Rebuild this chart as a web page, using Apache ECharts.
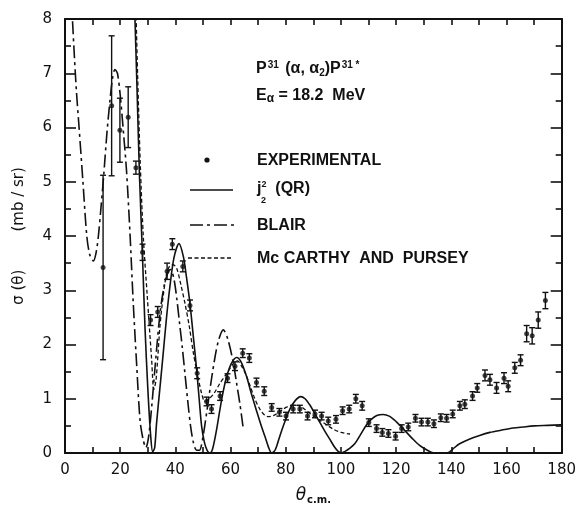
<!DOCTYPE html>
<html>
<head>
<meta charset="utf-8">
<script src="https://cdn.jsdelivr.net/npm/echarts@6/dist/echarts.min.js"></script>
<style>
html,body{margin:0;padding:0;background:#fff;}
#chart{width:579px;height:510px;}
</style>
</head>
<body>
<div id="chart"></div>
<script>
// ---------- DATA ----------
// Experimental points: angle (deg c.m.), cross section (mb/sr), error (mb/sr)
var expTheta = [13.8,16.9,19.9,22.9,25.7,28.1,31.0,33.6,37.0,38.9,42.7,45.3,47.9,51.3,53.1,56.2,58.9,61.6,64.4,66.8,69.4,72.2,74.9,77.7,80.1,82.7,85.1,87.9,90.6,93.0,95.4,98.2,100.6,103.0,105.4,107.7,110.1,112.9,115.0,117.2,119.8,122.0,124.4,127.0,129.2,131.5,133.7,136.2,138.3,140.5,143.1,144.9,147.7,149.4,152.2,154.0,156.4,159.1,160.6,163.0,165.1,167.3,169.3,171.5,174.1];
var expSigma = [3.42,6.40,5.95,6.19,5.26,3.70,2.45,2.60,3.35,3.85,3.44,2.72,1.47,0.95,0.81,1.05,1.38,1.60,1.84,1.75,1.30,1.14,0.84,0.75,0.68,0.81,0.81,0.68,0.72,0.68,0.59,0.62,0.78,0.81,1.00,0.87,0.56,0.45,0.38,0.36,0.31,0.45,0.48,0.64,0.57,0.57,0.54,0.65,0.64,0.72,0.87,0.90,1.05,1.20,1.43,1.35,1.20,1.38,1.23,1.57,1.71,2.20,2.16,2.45,2.81];
var expErr   = [1.70,1.29,0.59,0.56,0.12,0.15,0.10,0.10,0.15,0.10,0.10,0.10,0.10,0.08,0.08,0.08,0.08,0.08,0.08,0.08,0.08,0.08,0.07,0.07,0.07,0.07,0.07,0.07,0.07,0.07,0.07,0.07,0.07,0.07,0.08,0.08,0.07,0.07,0.07,0.07,0.07,0.07,0.07,0.07,0.07,0.07,0.07,0.07,0.07,0.07,0.08,0.08,0.08,0.08,0.10,0.10,0.10,0.10,0.10,0.10,0.10,0.15,0.15,0.15,0.15];

// j2^2 (QR) curve
var qrTheta = [25.0,26.0,27.0,28.0,29.0,30.0,31.0,31.8,32.5,33.2,34.5,35.6,36.8,38.0,39.5,41.3,42.9,44.0,45.3,46.5,47.7,48.7,49.5,50.5,51.5,52.5,53.5,55.0,56.2,57.4,58.6,60.3,62.2,63.8,65.8,67.5,69.4,71.0,72.5,73.8,74.9,76.2,77.9,79.7,81.5,83.5,85.4,87.0,88.8,90.6,92.4,94.2,96.0,97.8,99.0,100.2,101.5,103.0,105.0,107.0,109.3,111.0,113.0,115.3,117.5,120.0,122.5,126.0,128.5,131.0,133.0,136.0,139.0,140.7,143.0,146.7,150.0,154.0,158.0,162.4,166.0,170.0,175.0,180.0];
var qrSigma = [8.60,6.90,5.10,3.75,2.30,1.20,0.35,0.02,0.10,0.56,1.25,1.84,2.50,3.06,3.60,3.86,3.62,3.25,2.75,2.15,1.54,0.95,0.50,0.20,0.05,0.00,0.08,0.45,0.82,1.15,1.41,1.65,1.76,1.68,1.41,1.10,0.78,0.52,0.30,0.10,0.00,0.06,0.32,0.58,0.81,0.97,1.04,1.00,0.88,0.72,0.56,0.40,0.25,0.10,0.03,0.00,0.03,0.08,0.17,0.33,0.52,0.62,0.69,0.71,0.68,0.58,0.45,0.26,0.14,0.06,0.01,0.00,0.01,0.08,0.17,0.26,0.32,0.38,0.42,0.46,0.48,0.50,0.51,0.52];

// Blair curve
var blairTheta = [2.3,3.2,4.1,5.1,6.5,7.9,9.0,10.3,11.3,12.1,13.0,14.0,15.2,16.3,17.2,18.1,19.0,20.0,21.2,22.3,23.6,24.7,26.0,27.2,28.3,29.3,30.3,31.5,33.0,34.5,36.0,37.5,38.3,39.5,40.5,41.5,42.5,43.5,44.5,45.5,46.5,47.7,48.7,50.0,51.5,53.5,55.5,57.4,59.0,61.0,62.3,63.4,64.6];
var blairSigma = [8.40,7.50,6.70,6.00,5.00,4.00,3.65,3.54,3.70,4.00,4.50,5.10,5.90,6.50,6.90,7.07,7.00,6.60,5.90,5.20,4.00,2.80,1.60,0.60,0.25,0.10,0.30,0.90,1.80,2.60,3.10,3.35,3.38,3.20,2.85,2.40,1.95,1.45,0.95,0.50,0.20,0.05,0.05,0.30,0.80,1.50,2.05,2.27,2.10,1.66,1.25,0.90,0.45];

// McCarthy and Pursey curve
var mpTheta = [25.6,26.3,27.3,28.4,29.8,31.4,32.2,33.0,34.4,35.6,36.8,38.0,39.2,40.5,42.0,43.5,45.0,46.5,48.0,49.5,50.7,52.0,54.0,56.2,58.0,59.8,61.5,62.5,64.0,65.5,67.0,68.8,70.7,72.3,73.7,75.5,77.5,79.1,81.0,83.0,85.0,87.0,89.0,90.5,92.4,94.8,97.2,100.0,103.3];
var mpSigma = [8.40,7.00,5.30,3.97,2.90,1.72,1.17,1.35,2.33,2.90,3.30,3.45,3.47,3.40,3.10,2.75,2.35,1.85,1.45,1.10,0.95,0.99,1.10,1.29,1.42,1.56,1.68,1.70,1.60,1.45,1.25,1.00,0.80,0.70,0.67,0.69,0.75,0.81,0.86,0.88,0.87,0.80,0.72,0.66,0.60,0.52,0.44,0.38,0.35];

// Axis ticks
var xTicks = {min: 0, max: 180, interval: 20};
var yTicks = {min: 0, max: 8, interval: 1};

// ---------- BUILD ----------
function pairs(a, b) { return a.map(function (v, i) { return [v, b[i]]; }); }
var expData = expTheta.map(function (v, i) { return [v, expSigma[i], expErr[i]]; });

var INK = '#111';
var FONT = 'DejaVu Sans';
var TFONT = 'Liberation Sans';
var chart = echarts.init(document.getElementById('chart'), null, {renderer: 'canvas'});

function axisCommon(showLabel, isY) {
  return {
    axisLine: {show: true, onZero: false, lineStyle: {color: INK, width: 2}},
    axisTick: {show: true, inside: true, length: isY ? 11 : 6, lineStyle: {color: INK, width: 1.6}},
    minorTick: {show: true, splitNumber: 2, length: 6, lineStyle: {color: INK, width: 1.6}},
    splitLine: {show: false},
    minorSplitLine: {show: false},
    axisLabel: {show: showLabel, color: INK, fontFamily: FONT, fontSize: 15, margin: isY ? 13 : 10}
  };
}

var option = {
  backgroundColor: '#fff',
  animation: false,
  grid: {left: 65, right: 17, top: 19, bottom: 52, containLabel: false},
  xAxis: [
    Object.assign({type: 'value', position: 'bottom', min: xTicks.min, max: xTicks.max, interval: xTicks.interval,
      name: '{t|θ}{s|c.m.}', nameLocation: 'middle', nameGap: 34,
      nameTextStyle: {rich: {
        t: {fontFamily: FONT, fontSize: 17, fontStyle: 'italic', color: INK},
        s: {fontFamily: FONT, fontSize: 10, fontWeight: 'bold', color: INK, padding: [8, 0, 0, 1]}
      }}}, axisCommon(true, false)),
    Object.assign({type: 'value', position: 'top', min: xTicks.min, max: xTicks.max, interval: xTicks.interval}, axisCommon(false, false))
  ],
  yAxis: [
    Object.assign({type: 'value', position: 'left', min: yTicks.min, max: yTicks.max, interval: yTicks.interval,
      name: 'σ (θ)        (mb / sr)', nameLocation: 'middle', nameGap: 38, nameRotate: 90,
      nameTextStyle: {fontFamily: FONT, fontSize: 15, color: INK}}, axisCommon(true, true)),
    Object.assign({type: 'value', position: 'right', min: yTicks.min, max: yTicks.max, interval: yTicks.interval}, axisCommon(false, true))
  ],
  series: [
    {
      name: 'j2² (QR)', type: 'line', data: pairs(qrTheta, qrSigma), smooth: 0.3,
      showSymbol: false, clip: true, lineStyle: {color: INK, width: 1.6, type: 'solid'}
    },
    {
      name: 'BLAIR', type: 'line', data: pairs(blairTheta, blairSigma), smooth: 0.3,
      showSymbol: false, clip: true, lineStyle: {color: INK, width: 1.6, type: [13, 4, 3, 4]}
    },
    {
      name: 'McCARTHY AND PURSEY', type: 'line', data: pairs(mpTheta, mpSigma), smooth: 0.3,
      showSymbol: false, clip: true, lineStyle: {color: INK, width: 1.3, type: [4, 2.5]}
    },
    {
      name: 'EXPERIMENTAL errors', type: 'custom', data: expData, clip: true,
      renderItem: function (params, api) {
        var x = api.value(0), y = api.value(1), e = api.value(2);
        var top = api.coord([x, y + e]);
        var bot = api.coord([x, Math.max(y - e, 0)]);
        var w = 3;
        var st = {stroke: INK, lineWidth: 1.4};
        return {type: 'group', children: [
          {type: 'line', shape: {x1: top[0], y1: top[1], x2: bot[0], y2: bot[1]}, style: st},
          {type: 'line', shape: {x1: top[0] - w, y1: top[1], x2: top[0] + w, y2: top[1]}, style: st},
          {type: 'line', shape: {x1: bot[0] - w, y1: bot[1], x2: bot[0] + w, y2: bot[1]}, style: st}
        ]};
      }
    },
    {
      name: 'EXPERIMENTAL', type: 'scatter', data: pairs(expTheta, expSigma),
      symbol: 'circle', symbolSize: 5, itemStyle: {color: INK}
    }
  ],
  graphic: [
    {type: 'text', left: 256, top: 60, style: {
      text: '{a|P}{u|31}{a| (α, α}{d|2}{a|)P}{u|31 *}',
      rich: {
        a: {fontFamily: TFONT, fontSize: 16, fill: INK, fontWeight: 'bold'},
        u: {fontFamily: TFONT, fontSize: 10, fill: INK, fontWeight: 'bold', padding: [0, 2, 8, 1]},
        d: {fontFamily: TFONT, fontSize: 10, fill: INK, fontWeight: 'bold', padding: [8, 0, 0, 0]}
      }}},
    {type: 'text', left: 256, top: 88, style: {
      text: '{a|E}{d|α}{a| = 18.2  MeV}',
      rich: {
        a: {fontFamily: TFONT, fontSize: 16, fill: INK, fontWeight: 'bold'},
        d: {fontFamily: TFONT, fontSize: 12, fill: INK, fontWeight: 'bold', padding: [6, 0, 0, 0]}
      }}},
    // legend samples
    {type: 'circle', shape: {cx: 207, cy: 160, r: 2.6}, style: {fill: INK}},
    {type: 'line', shape: {x1: 190, y1: 190, x2: 233, y2: 190}, style: {stroke: INK, lineWidth: 1.6}},
    {type: 'line', shape: {x1: 190, y1: 225, x2: 236, y2: 225}, style: {stroke: INK, lineWidth: 1.6, lineDash: [13, 4, 3, 4]}},
    {type: 'line', shape: {x1: 188, y1: 258, x2: 232, y2: 258}, style: {stroke: INK, lineWidth: 1.3, lineDash: [4, 2.5]}},
    {type: 'text', left: 257, top: 153, style: {text: 'EXPERIMENTAL', fontFamily: TFONT, fontSize: 16, fill: INK, fontWeight: 'bold'}},
    {type: 'text', left: 257, top: 180, style: {
      text: '{a|j}{s|2}{a|  (QR)}',
      rich: {
        a: {fontFamily: TFONT, fontSize: 16, fill: INK, fontWeight: 'bold'},
        s: {fontFamily: TFONT, fontSize: 9, fill: INK, fontWeight: 'bold', padding: [0, 0, 8, 0]}
      }}},
    {type: 'text', left: 261, top: 196, style: {text: '2', fontFamily: TFONT, fontSize: 9, fill: INK, fontWeight: 'bold'}},
    {type: 'text', left: 257, top: 218, style: {text: 'BLAIR', fontFamily: TFONT, fontSize: 16, fill: INK, fontWeight: 'bold'}},
    {type: 'text', left: 257, top: 251, style: {text: 'Mc CARTHY  AND  PURSEY', fontFamily: TFONT, fontSize: 16, fill: INK, fontWeight: 'bold'}}
  ]
};
chart.setOption(option);
</script>
</body>
</html>
